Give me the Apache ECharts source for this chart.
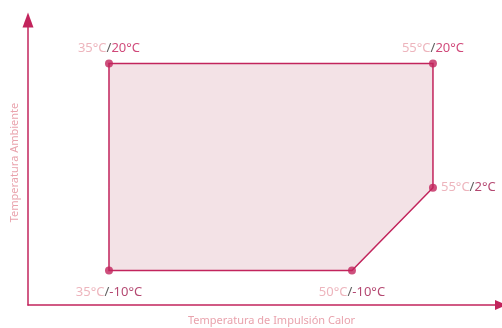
<!DOCTYPE html>
<html>
<head>
<meta charset="utf-8">
<script src="https://cdn.jsdelivr.net/npm/echarts@6/dist/echarts.min.js"></script>
<style>
  html, body { margin: 0; padding: 0; background: #ffffff; }
  #chart { width: 502px; height: 328px; }
</style>
</head>
<body>
<div id="chart"></div>
<script>
// Operating envelope: supply (impulsión) temperature vs. ambient temperature
const impulsion = [35, 55, 55, 50, 35];   // °C, x
const ambiente  = [20, 20, 2, -10, -10];  // °C, y
const labelSide = ['top', 'top', 'right', 'bottom', 'bottom'];
const xAxisName = 'Temperatura de Impulsión Calor';
const yAxisName = 'Temperatura Ambiente';

const C_LINE = '#c2245c';
const C_FILL = '#f3e2e6';
const C_LIGHT = '#e9a3ad';
const C_HOT = '#c41a58';
const C_COLD = '#a11a4e';

const points = impulsion.map((x, i) => [x, ambiente[i]]);

const labelDistance = { top: 5, bottom: 11, right: 4 };

const labelData = points.map((p, i) => ({
  value: p,
  label: {
    show: true,
    position: labelSide[i],
    distance: labelDistance[labelSide[i]],
    formatter: '{a|' + p[0] + '°C}{s|/}{' + (p[1] >= 20 ? 'h' : 'c') + '|' + p[1] + '°C}'
  }
}));

const chart = echarts.init(document.getElementById('chart'), null, { renderer: 'canvas' });

chart.setOption({
  animation: false,
  backgroundColor: '#ffffff',
  grid: { left: 28, right: 1, top: 20, bottom: 23, containLabel: false, outerBoundsMode: 'none' },
  xAxis: {
    type: 'value',
    min: 30,
    max: 59.2,
    name: xAxisName,
    nameLocation: 'middle',
    nameGap: 10,
    nameTextStyle: { color: C_LIGHT, fontSize: 11, fontFamily: 'Noto Sans', padding: [0, 0, 0, 14] },
    axisLine: { show: true, onZero: false, symbol: ['none', 'triangle'], symbolSize: [10, 12], lineStyle: { color: C_LINE, width: 1.5 } },
    axisTick: { show: false },
    axisLabel: { show: false },
    splitLine: { show: false }
  },
  yAxis: {
    type: 'value',
    min: -15,
    max: 26.3,
    name: yAxisName,
    nameLocation: 'middle',
    nameGap: 8,
    nameRotate: 90,
    nameTextStyle: { color: C_LIGHT, fontSize: 11, fontFamily: 'Noto Sans' },
    axisLine: { show: true, onZero: false, symbol: ['none', 'triangle'], symbolSize: [11, 15], lineStyle: { color: C_LINE, width: 1.5 } },
    axisTick: { show: false },
    axisLabel: { show: false },
    splitLine: { show: false }
  },
  series: [
    {
      type: 'custom',
      coordinateSystem: 'cartesian2d',
      data: [0],
      silent: true,
      z: 1,
      renderItem: function (params, api) {
        const pts = points.map(p => api.coord(p));
        return {
          type: 'polygon',
          shape: { points: pts },
          style: { fill: C_FILL, stroke: C_LINE, lineWidth: 1.5 }
        };
      }
    },
    {
      type: 'scatter',
      symbol: 'circle',
      symbolSize: 8,
      z: 3,
      itemStyle: { color: C_LINE },
      label: {
        fontFamily: 'Noto Sans',
        fontSize: 13,
        rich: {
          a: { color: C_LIGHT, fontSize: 13, fontFamily: 'Noto Sans' },
          s: { color: '#333333', fontSize: 13, fontFamily: 'Noto Sans' },
          h: { color: C_HOT, fontSize: 13, fontFamily: 'Noto Sans' },
          c: { color: C_COLD, fontSize: 13, fontFamily: 'Noto Sans' }
        }
      },
      data: labelData
    }
  ]
});
</script>
</body>
</html>
